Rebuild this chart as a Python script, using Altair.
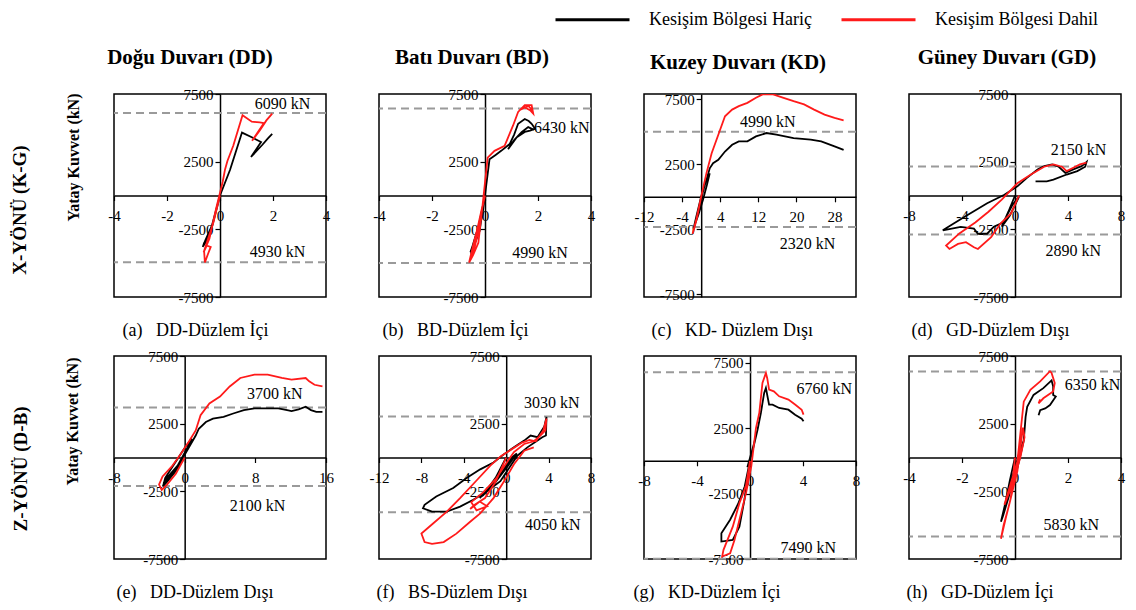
import altair as alt
import pandas as pd

FONT = "Liberation Serif"
SER_B = "Kesişim Bölgesi Hariç"
SER_R = "Kesişim Bölgesi Dahil"

# ---------------- data ----------------
# (a) DD - Düzlem İçi
a_bx = [0, -0.3, -0.55, -0.65, -0.6, -0.4, -0.2, -0.45, -0.62, -0.5, -0.3, 0, 0.38, 0.83, 1.2, 1.55, 1.17, 1.6, 1.8, 1.97]
a_by = [0, -2200, -3300, -3800, -3500, -3000, -1500, -3200, -3700, -3300, -2300, 0, 1900, 4650, 4300, 3950, 2850, 3750, 4200, 4550]
a_rx = [0, -0.25, -0.5, -0.6, -0.57, -0.45, -0.35, -0.5, -0.62, -0.4, -0.15, 0.1, 0.19, 0.28, 0.5, 0.85, 1.2, 1.5, 1.66, 1.21, 1.5, 1.75, 1.97]
a_ry = [0, -2000, -3500, -4100, -4950, -4300, -3800, -3700, -4200, -3200, -1000, 1000, 1925, 2550, 3675, 5925, 5450, 5400, 5350, 4050, 4800, 5550, 6050]

# (b) BD - Düzlem İçi
b_bx = [0, -0.2, -0.45, -0.53, -0.4, -0.2, -0.05, -0.3, -0.5, -0.55, -0.35, -0.1, 0.05, 0.17, 0.4, 0.61, 0.93, 1.1, 1.25, 1.5, 1.65, 1.76, 1.89, 1.7, 1.5, 1.2, 0.87, 1.1, 1.38, 1.63, 1.85]
b_by = [0, -2000, -3600, -4300, -3600, -2600, -500, -2800, -3900, -4200, -3300, -1500, 800, 2675, 3000, 3300, 3800, 4500, 5300, 5650, 5500, 5300, 4925, 4800, 4700, 4300, 3425, 4100, 4675, 5050, 4850]
b_rx = [0, -0.2, -0.45, -0.6, -0.45, -0.25, -0.1, -0.35, -0.55, -0.4, -0.15, 0.1, 0.36, 0.74, 1.06, 1.25, 1.5, 1.76, 1.82, 1.7, 1.5, 1.3, 1.45, 1.65, 1.78]
b_ry = [0, -1800, -3700, -4950, -4400, -3500, -800, -3000, -4600, -3900, -1800, 2800, 3300, 3675, 5175, 6175, 6675, 6675, 6050, 6300, 6500, 6300, 6500, 6600, 6300]

# (c) KD - Düzlem Dışı
c_bx = [0, -1, -1.6, -1.2, -0.5, 0.3, 1, 1.8, 1.2, 0.4, -0.6, -1.5, -1.2, 0, 1.1, 1.8, 2.5, 3.6, 5, 6.5, 7.9, 9.7, 11.5, 13.7, 15.8, 19.4, 23, 25.2, 28, 29.9]
c_by = [0, -1500, -2450, -2000, -1100, 300, 1200, 1800, 900, -200, -1400, -2300, -1900, 0, 1290, 2190, 2580, 2840, 3480, 4000, 4260, 4260, 4640, 4900, 4770, 4515, 4390, 4260, 3870, 3610]
c_rx = [0, -1, -1.8, -1.5, -0.8, 0, 1.1, 2.2, 3.6, 5, 6.5, 7.9, 9.7, 11.5, 12.9, 15.1, 17.3, 19.4, 21.6, 23.7, 25.9, 28, 29.9]
c_ry = [0, -1700, -2840, -2500, -1500, 0, 1800, 3350, 4770, 6190, 6700, 6970, 7220, 7610, 7870, 7870, 7610, 7350, 7100, 6700, 6320, 6060, 5880]

# (d) GD - Düzlem Dışı
d_bx = [0, -0.5, -1.0, -0.4, 0.3, -0.2, -0.9, -1.6, -2.1, -2.8, -3.1, -4.1, -5.45, -3.8, -2.1, -0.8, 0.18, 0.9, 1.7, 2.2, 2.8, 3.3, 3.8, 4.4, 5.05, 5.4, 5.3, 4.7, 3.9, 2.9, 2.4, 1.55]
d_by = [0, -1200, -2300, -1500, -100, -700, -2000, -2300, -2825, -2825, -2450, -2325, -2575, -1575, -575, 50, 675, 1300, 1925, 2175, 2300, 2125, 1675, 1925, 2175, 2475, 2125, 1800, 1550, 1175, 1050, 1050]
d_rx = [0.3, -0.3, -1.1, -1.8, -2.8, -3.1, -3.7, -4.3, -4.95, -5.2, -4.2, -3.0, -2.0, -1.0, 0.18, 1.2, 2.2, 2.9, 3.55, 3.9, 4.4, 4.9, 5.4]
d_ry = [0, -1325, -2075, -3075, -3950, -3825, -3450, -3575, -3950, -3700, -2800, -2000, -1200, -300, 900, 1550, 2125, 2300, 2125, 1800, 2050, 2300, 2425]

# (e) DD - Düzlem Dışı
e_bx = [0, -1, -2, -2.45, -2.2, -1.2, 0, 0.8, 0.3, -0.8, -2, -2.4, -1.5, 0, 1.25, 1.6, 2.4, 3.2, 4.4, 5.5, 6.7, 7.9, 9.4, 10.6, 11.6, 12.1, 12.9, 13.7, 14.3, 14.9, 15.6]
e_by = [0, -1000, -1800, -2125, -1500, -500, 700, 1400, 700, -600, -1500, -1900, -1300, 200, 1625, 2125, 2625, 2875, 3000, 3250, 3500, 3625, 3625, 3625, 3500, 3425, 3550, 3750, 3500, 3375, 3375]
e_rx = [0, -1, -2, -2.6, -2.9, -2.5, -1.5, -0.5, 0.5, 1.25, 1.8, 2.8, 4, 5.1, 6.3, 7.9, 9.4, 11, 12.1, 13.7, 14.1, 14.7, 15.6]
e_ry = [0, -1200, -2000, -2400, -2000, -1400, -700, 200, 1200, 2000, 3125, 4000, 4500, 5250, 5875, 6125, 6125, 5875, 5750, 5875, 5625, 5375, 5250]

# (f) BS - Düzlem Dışı
f_bx = [0, -1, -2, -2.5, -1.5, -0.5, 0.5, 1, 0, -1.2, -2.2, -1, 0.2, 1.05, 2, 2.95, 3.4, 3.75, 3.8, 3.6, 2.95, 2.3, 1.7, 0.73, -0.2, -1.2, -2.45, -3.7, -5, -6.6, -7.7, -7.85, -7, -5.6, -4.35, -3.1, -1.8, -0.55, 0.4, 1.05]
f_by = [0, -1500, -2600, -3000, -2200, -1200, 0, 300, -800, -2000, -2800, -1800, -300, 125, 750, 1250, 1500, 1625, 3000, 2300, 1500, 1625, 1250, 750, 250, -375, -875, -1500, -2250, -2875, -3500, -3750, -4000, -4000, -3625, -3125, -2500, -1750, -625, 125]
f_rx = [0, -1, -2, -3, -3.4, -2.5, -1.8, -2.8, -3.3, -2.2, -1, 0.2, 0.73, 1.7, 2.6, 3.2, 3.7, 3.8, 3.5, 2.8, 2.2, 1.5, 0.5, -0.5, -1.5, -2.8, -4.35, -5.6, -6.9, -8, -7.7, -7, -5.9, -4.7, -3.4, -2.45, -1.2, -0.2, 0.73, 1.7, 2.6]
f_ry = [0, -1800, -3000, -3500, -3800, -3250, -3600, -3900, -3300, -2600, -1600, -200, 400, 1000, 1200, 1600, 2000, 2875, 2000, 1200, 1300, 1100, 600, 100, -600, -1700, -3000, -4000, -4875, -5625, -6250, -6375, -6250, -5625, -4750, -4125, -3000, -1750, -500, 500, 750]

# (g) KD - Düzlem İçi
g_bx = [0, -0.4, -0.9, -1.5, -2.16, -2.16, -1.3, -0.8, -0.42, -0.05, 0.3, 0.57, 0.3, -0.2, 0.2, 0.57, 0.82, 1.07, 1.2, 1.44, 1.7, 2.2, 2.9, 3.4, 3.9, 4.04]
g_by = [0, -1960, -3300, -4500, -5540, -6170, -6050, -5030, -2980, -180, 1200, 2370, 1300, -500, 800, 2370, 3650, 5180, 5560, 4290, 4290, 4030, 3900, 3520, 3210, 3010]
g_rx = [0, -0.3, -0.8, -1.3, -2.0, -2.1, -1.5, -1.17, -0.8, -0.3, 0.1, 0.45, 0.7, 0.94, 1.2, 1.3, 1.44, 1.8, 2.2, 2.9, 3.4, 3.9, 4.04]
g_ry = [0, -1900, -3240, -5030, -6800, -7320, -7070, -6050, -4520, -2470, -400, 2500, 3650, 5940, 6710, 6300, 5430, 5300, 4920, 4670, 4290, 3900, 3520]

# (h) GD - Düzlem İçi
h_bx = [0, -0.2, -0.35, -0.53, -0.45, -0.25, 0, 0.2, 0.33, 0.2, -0.1, -0.35, -0.2, 0.1, 0.33, 0.4, 0.46, 0.7, 1.07, 1.38, 1.44, 1.44, 1.54, 1.32, 1.14, 0.95, 0.89]
h_by = [0, -1750, -3250, -4750, -4300, -3000, -1200, 200, 1250, 600, -1500, -3300, -2600, -700, 1250, 3000, 3750, 4625, 5125, 5700, 5250, 4625, 4500, 3875, 3625, 3500, 3125]
h_rx = [0, -0.16, -0.35, -0.53, -0.43, -0.22, 0.09, 0.3, 0.36, 0.2, -0.1, -0.4, -0.25, 0.09, 0.33, 0.58, 0.95, 1.32, 1.38, 1.5, 1.44, 1.07, 0.89, 0.95]
h_ry = [0, -3000, -4500, -6000, -5000, -3500, -1000, 2200, 1500, 0, -2000, -3500, -2500, -300, 4125, 5000, 5625, 6375, 6250, 5500, 4875, 4375, 4000, 4300]

# capacity lines (kN) and label anchor points
refs = {
    "a": [6090, -4930], "b": [6430, -4990], "c": [4990, -2320], "d": [2150, -2890],
    "e": [3700, -2100], "f": [3030, -4050], "g": [6760, -7490], "h": [6350, -5830],
}
ann = {
    "a": [(2.36, 6725), (2.17, -4200)], "b": [(2.9, 4975), (2.08, -4275)],
    "c": [(14, 5730), (22.3, -3660)], "d": [(4.8, 3350), (4.4, -4075)],
    "e": [(10.2, 4675), (8.25, -3575)], "f": [(4.3, 4000), (4.4, -5000)],
    "g": [(5.6, 5485), (4.4, -6680)], "h": [(2.93, 5375), (2.12, -5000)],
}
subtitles = {
    "a": "(a)   DD-Düzlem İçi", "b": "(b)   BD-Düzlem İçi", "c": "(c)   KD- Düzlem Dışı",
    "d": "(d)   GD-Düzlem Dışı", "e": "(e)   DD-Düzlem Dışı", "f": "(f)   BS-Düzlem Dışı",
    "g": "(g)   KD-Düzlem İçi", "h": "(h)   GD-Düzlem İçi",
}
headers = {"a": "Doğu Duvarı (DD)", "b": "Batı Duvarı (BD)", "c": "Kuzey Duvarı (KD)", "d": "Güney Duvarı (GD)"}
y_ticks = [-7500, -5000, -2500, 0, 2500, 5000, 7500]

# layout / axis settings per panel
cfg = {
    "a": dict(xd=[-4, 4], yd=[-7500, 7500], ls=2, ts=1, subx=8, hdx=-30),
    "b": dict(xd=[-4, 4], yd=[-7500, 7500], ls=2, ts=1, subx=3, hdx=-13),
    "c": dict(xd=[-12, 32.5], yd=[-7700, 7900], ls=8, ts=4, subx=7, hdx=-12),
    "d": dict(xd=[-8, 8], yd=[-7500, 7500], ls=4, ts=2, subx=2, hdx=-8),
    "e": dict(xd=[-8, 16], yd=[-7500, 7500], ls=4, ts=2, subx=2, hdx=0),
    "f": dict(xd=[-12, 8], yd=[-7500, 7500], ls=4, ts=1, subx=-3, hdx=0),
    "g": dict(xd=[-8, 8], yd=[-7500, 8000], ls=4, ts=2, subx=-11, hdx=0),
    "h": dict(xd=[-4, 4], yd=[-7500, 7500], ls=2, ts=1, subx=-3, hdx=0),
}
series = {
    "a": (a_bx, a_by, a_rx, a_ry), "b": (b_bx, b_by, b_rx, b_ry),
    "c": (c_bx, c_by, c_rx, c_ry), "d": (d_bx, d_by, d_rx, d_ry),
    "e": (e_bx, e_by, e_rx, e_ry), "f": (f_bx, f_by, f_rx, f_ry),
    "g": (g_bx, g_by, g_rx, g_ry), "h": (h_bx, h_by, h_rx, h_ry),
}

W, H = 212, 203
NB = "\u00a0"

# long, thin line symbols: a custom path wider than the symbol's nominal box
legend = alt.Legend(
    orient="none", legendX=467, legendY=-86, direction="horizontal", title=None,
    symbolType="M-3.7,0H3.7", symbolSize=400, symbolStrokeWidth=3,
    symbolFillColor="transparent",
    labelFont=FONT, labelFontSize=18, labelColor="black", labelOffset=45,
    columnPadding=23, padding=0, labelLimit=400,
)
cscale = alt.Scale(domain=[SER_B, SER_R], range=["black", "#ff1a1a"])


def make_panel(k):
    c = cfg[k]
    xmin, xmax = c["xd"]
    ymin, ymax = c["yd"]
    xpos = W * (0 - xmin) / (xmax - xmin)   # pixel x of value 0
    ypos = H * (ymax - 0) / (ymax - ymin)   # pixel y of value 0
    xs = alt.Scale(domain=[xmin, xmax], nice=False, zero=False)
    ys = alt.Scale(domain=[ymin, ymax], nice=False, zero=False)
    xt = list(range(int(xmin), int(xmax) + 1, c["ts"]))
    xaxis = alt.Axis(
        values=xt, offset=ypos - H, grid=False, labelFlush=False, labelOverlap=False,
        labelExpr=f"(datum.value - ({int(xmin)})) % {c['ls']} === 0 ? '' + datum.value : ''",
        labelPadding=8, title=subtitles[k].replace(" ", NB), titleX=c["subx"], titleY=236 - ypos,
        titleAlign="left", titleBaseline="middle", titleFontSize=18, titleFontWeight="normal",
    )
    first_col = k in ("a", "e")
    yaxis_kw = dict(
        values=y_ticks, offset=-xpos, grid=False, labelFlush=False, labelOverlap=False,
        labelExpr="'' + datum.value", labelPadding=2, labelBaseline="middle",
    )
    if first_col:
        yaxis_kw.update(
            title="Yatay Kuvvet (kN)", titleX=-41 - xpos, titleY=63 if k == "a" else 65,
            titleAngle=270, titleAlign="center", titleBaseline="middle",
            titleFontSize=16, titleFontWeight="bold",
        )
    else:
        yaxis_kw.update(title=None)
    yaxis = alt.Axis(**yaxis_kw)

    bx, by, rx, ry = series[k]
    df = pd.DataFrame({
        "x": bx + rx, "y": by + ry,
        "s": [SER_B] * len(bx) + [SER_R] * len(rx),
        "i": list(range(len(bx))) + list(range(len(rx))),
    })
    lines = alt.Chart(df).mark_line(strokeWidth=1.8, clip=True).encode(
        x=alt.X("x:Q", scale=xs, axis=xaxis),
        y=alt.Y("y:Q", scale=ys, axis=yaxis),
        color=alt.Color("s:N", scale=cscale, legend=legend),
        order="i:Q",
    )
    rdf = pd.DataFrame({"y": refs[k]})
    rules = alt.Chart(rdf).mark_rule(color="#9a9a9a", strokeWidth=2, strokeDash=[8, 5]).encode(
        y=alt.Y("y:Q", scale=ys)
    )
    adf = pd.DataFrame({
        "x": [p[0] for p in ann[k]], "y": [p[1] for p in ann[k]],
        "t": [f"{abs(v)} kN" for v in refs[k]],
    })
    texts = alt.Chart(adf).mark_text(font=FONT, fontSize=16, color="black").encode(
        x=alt.X("x:Q", scale=xs), y=alt.Y("y:Q", scale=ys), text="t:N"
    )
    layers = [rules, lines, texts]
    if first_col:
        row_label = "X-YÖNÜ (K-G)" if k == "a" else "Z-YÖNÜ (D-B)"
        ldf = pd.DataFrame({"t": [row_label]})
        lab = alt.Chart(ldf).mark_text(
            font=FONT, fontSize=19, fontWeight="bold", angle=270, color="black", baseline="middle"
        ).encode(
            x=alt.value(-94 if k == "a" else -93), y=alt.value(116 if k == "a" else 113), text="t:N"
        )
        layers.append(lab)
    ch = alt.layer(*layers).properties(width=W, height=H)
    if k in headers:
        ch = ch.properties(title=alt.TitleParams(
            text=headers[k], font=FONT, fontSize=21, fontWeight="bold", color="black",
            anchor="middle", dx=c["hdx"], offset=2, baseline="alphabetic",
        ))
    return ch


charts = [make_panel(k) for k in "abcdefgh"]
chart = alt.concat(
    *charts, columns=4, spacing=alt.RowColnumber(row=59, column=53), bounds="flush",
    padding={"left": 2, "top": 0, "right": 0, "bottom": 0},
    background="white",
).configure_view(
    stroke="black", strokeWidth=1.5
).configure_axis(
    domainColor="black", domainWidth=1.5, tickColor="black", tickSize=5, tickWidth=1.2,
    labelFont=FONT, labelFontSize=15, labelColor="black", titleFont=FONT, titleColor="black",
)

chart.save("out.html", embed_options={"renderer": "svg", "actions": False})
